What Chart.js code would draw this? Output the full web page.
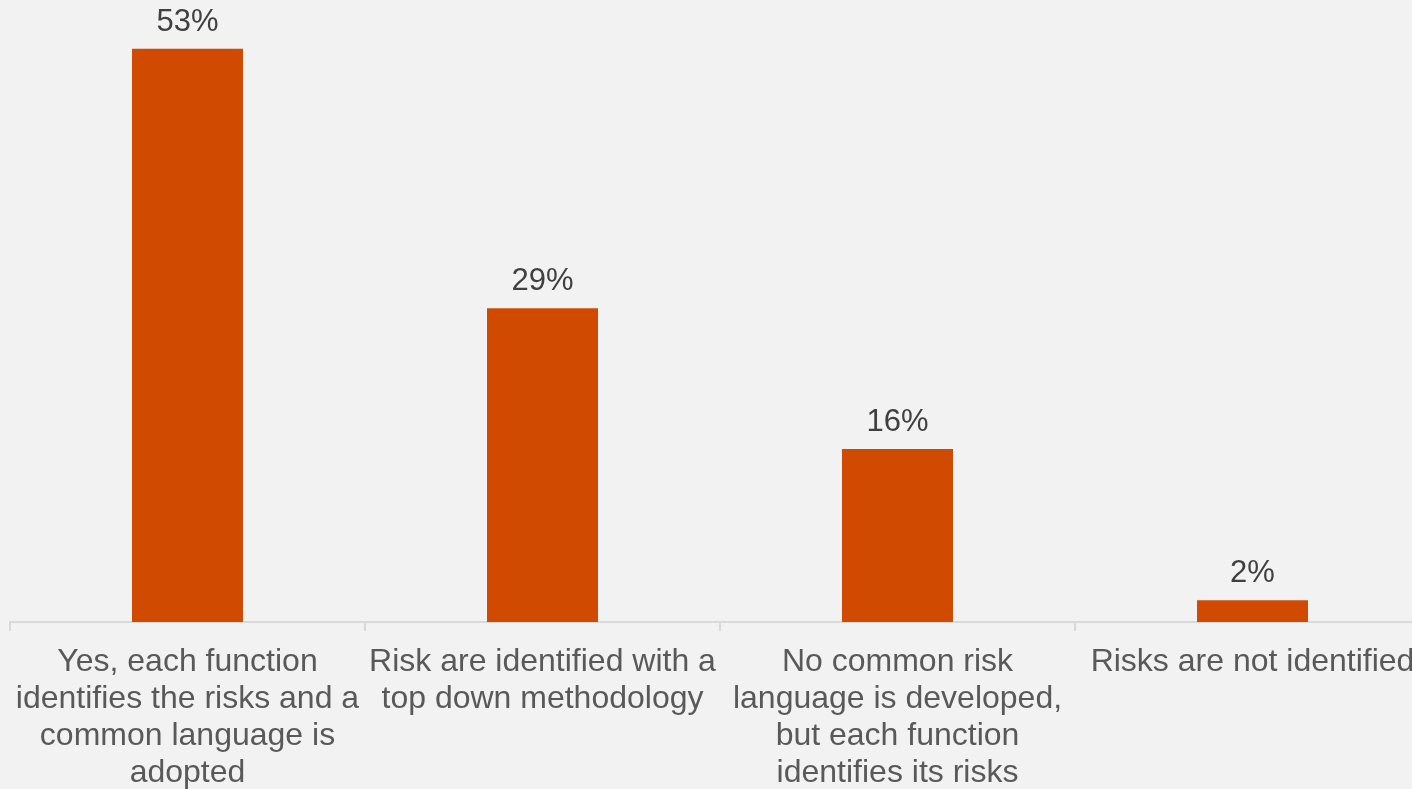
<!DOCTYPE html>
<html>
<head>
<meta charset="utf-8">
<script src="https://cdn.jsdelivr.net/npm/chart.js@4"></script>
<style>
  html, body { margin: 0; padding: 0; background: #f2f2f2; overflow: hidden; }
  #wrap { width: 1440px; height: 789px; position: relative; }
</style>
</head>
<body>
<div id="wrap"><canvas id="c"></canvas></div>
<script>
const categories = [
  ["Yes, each function", "identifies the risks and a", "common language is", "adopted"],
  ["Risk are identified with a", "top down methodology"],
  ["No common risk", "language is developed,", "but each function", "identifies its risks"],
  ["Risks are not identified"]
];
const values = [53, 29, 16, 2];
const valueLabels = ["53%", "29%", "16%", "2%"];

const barColor = "#d04a02";

const dataLabelPlugin = {
  id: "dataLabels",
  afterDatasetsDraw(chart) {
    const ctx = chart.ctx;
    const meta = chart.getDatasetMeta(0);
    ctx.save();
    ctx.font = "31px 'Liberation Sans', Arial, sans-serif";
    ctx.fillStyle = "#404040";
    ctx.textAlign = "center";
    ctx.textBaseline = "alphabetic";
    meta.data.forEach((bar, i) => {
      ctx.fillText(valueLabels[i], bar.x, bar.y - 18);
    });
    ctx.restore();
  }
};

new Chart(document.getElementById("c"), {
  type: "bar",
  data: {
    labels: categories,
    datasets: [{
      data: values,
      backgroundColor: barColor,
      borderWidth: 0,
      barPercentage: 1,
      categoryPercentage: 0.3127
    }]
  },
  options: {
    responsive: true,
    maintainAspectRatio: false,
    animation: false,
    layout: { padding: { left: 10, right: 10, top: 0, bottom: 0 } },
    plugins: { legend: { display: false }, tooltip: { enabled: false } },
    scales: {
      y: { display: false, min: 0, max: 57.5 },
      x: {
        afterFit(scale) { scale.height = 167; },
        grid: {
          display: true,
          offset: true,
          drawOnChartArea: false,
          drawTicks: true,
          tickLength: 9,
          color: "#d9d9d9",
          lineWidth: 2
        },
        border: { display: true, color: "#d9d9d9", width: 2 },
        ticks: {
          color: "#595959",
          font: { family: "'Liberation Sans', Arial, sans-serif", size: 32, lineHeight: 1.15 },
          padding: 13,
          maxRotation: 0,
          autoSkip: false
        }
      }
    }
  },
  plugins: [dataLabelPlugin]
});
</script>
</body>
</html>
